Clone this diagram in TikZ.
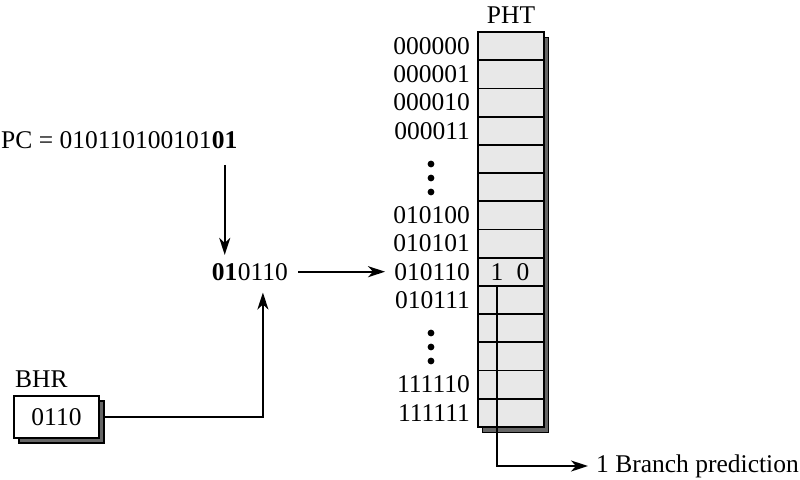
\documentclass[tikz,border=0pt]{standalone}
\usepackage{fontspec}
\setmainfont{Liberation Serif}
\usetikzlibrary{arrows.meta}

\begin{document}
\begin{tikzpicture}[x=1pt, y=-1pt, font=\fontsize{25.5}{30}\selectfont,
                every node/.style={inner sep=0pt},
                cell_style/.style={draw=black, line width=1.8pt, fill=black!9, minimum width=66pt, minimum height=28.2pt},
                box_style/.style={draw=black, line width=1.8pt, fill=white, minimum width=85pt, minimum height=42pt},
                shadow_style/.style={draw=black, line width=1pt, fill=black!60},
                edge_style/.style={draw=black, line width=2.2pt},
                arrow_style/.style={edge_style, -{Stealth[length=17pt, width=11pt, inset=5pt]}}]
                \useasboundingbox (0,0) rectangle (800,479);
                % PHT
                \node[shadow_style, minimum width=66pt, minimum height=395pt] (pht_shadow) at (515, 234.5) {};
                \foreach \i in {0,...,13}
                    \node[cell_style] (c\i) at (511, 46.1+28.2*\i) {};
                \node (pht) at (511, 15) {PHT};
                \foreach \i/\bits in {0/000000, 1/000001, 2/000010, 3/000011, 6/010100, 7/010101, 8/010110, 9/010111, 12/111110, 13/111111}
                    \node[anchor=east] (l\i) at (470, 46.1+28.2*\i) {\bits};
                \foreach \y in {164, 178, 192, 333, 347, 361}
                    \fill (431, \y) circle (3.4pt);
                \node (b1) at (497, 0 |- c8) {1};
                \node (b0) at (523, 0 |- c8) {0};
                % PC and index
                \node[anchor=west] (pc) at (1, 140) {PC = 010110100101};
                \node[anchor=west] (pc_bits) at (pc.east) {\textbf{01}};
                \node (idx_bits) at (pc_bits |- c8) {\textbf{01}};
                \node[anchor=west] (idx) at (idx_bits.east) {0110};
                % BHR
                \node[box_style, fill=black!60] (bhr_shadow) at (61.5, 422) {};
                \node[box_style] (bhr) at (56.5, 417) {0110};
                \node[anchor=west] (bhr_label) at (15, 379) {BHR};
                \node[anchor=west, inner xsep=8pt] (pred) at (588, 466) {1 Branch prediction};
                % connectors
                \draw[arrow_style, shorten <=16pt, shorten >=8pt] (pc_bits.south) -- (idx_bits.north);
                \draw[arrow_style, shorten <=10pt, shorten >=9pt] (idx.east) -- (l8.west);
                \draw[arrow_style, shorten >=12pt] (bhr.east -| bhr_shadow.east) -| (idx.south);
                \draw[arrow_style] (b1 |- c8.south) |- (pred.west);
            \end{tikzpicture}
\end{document}
